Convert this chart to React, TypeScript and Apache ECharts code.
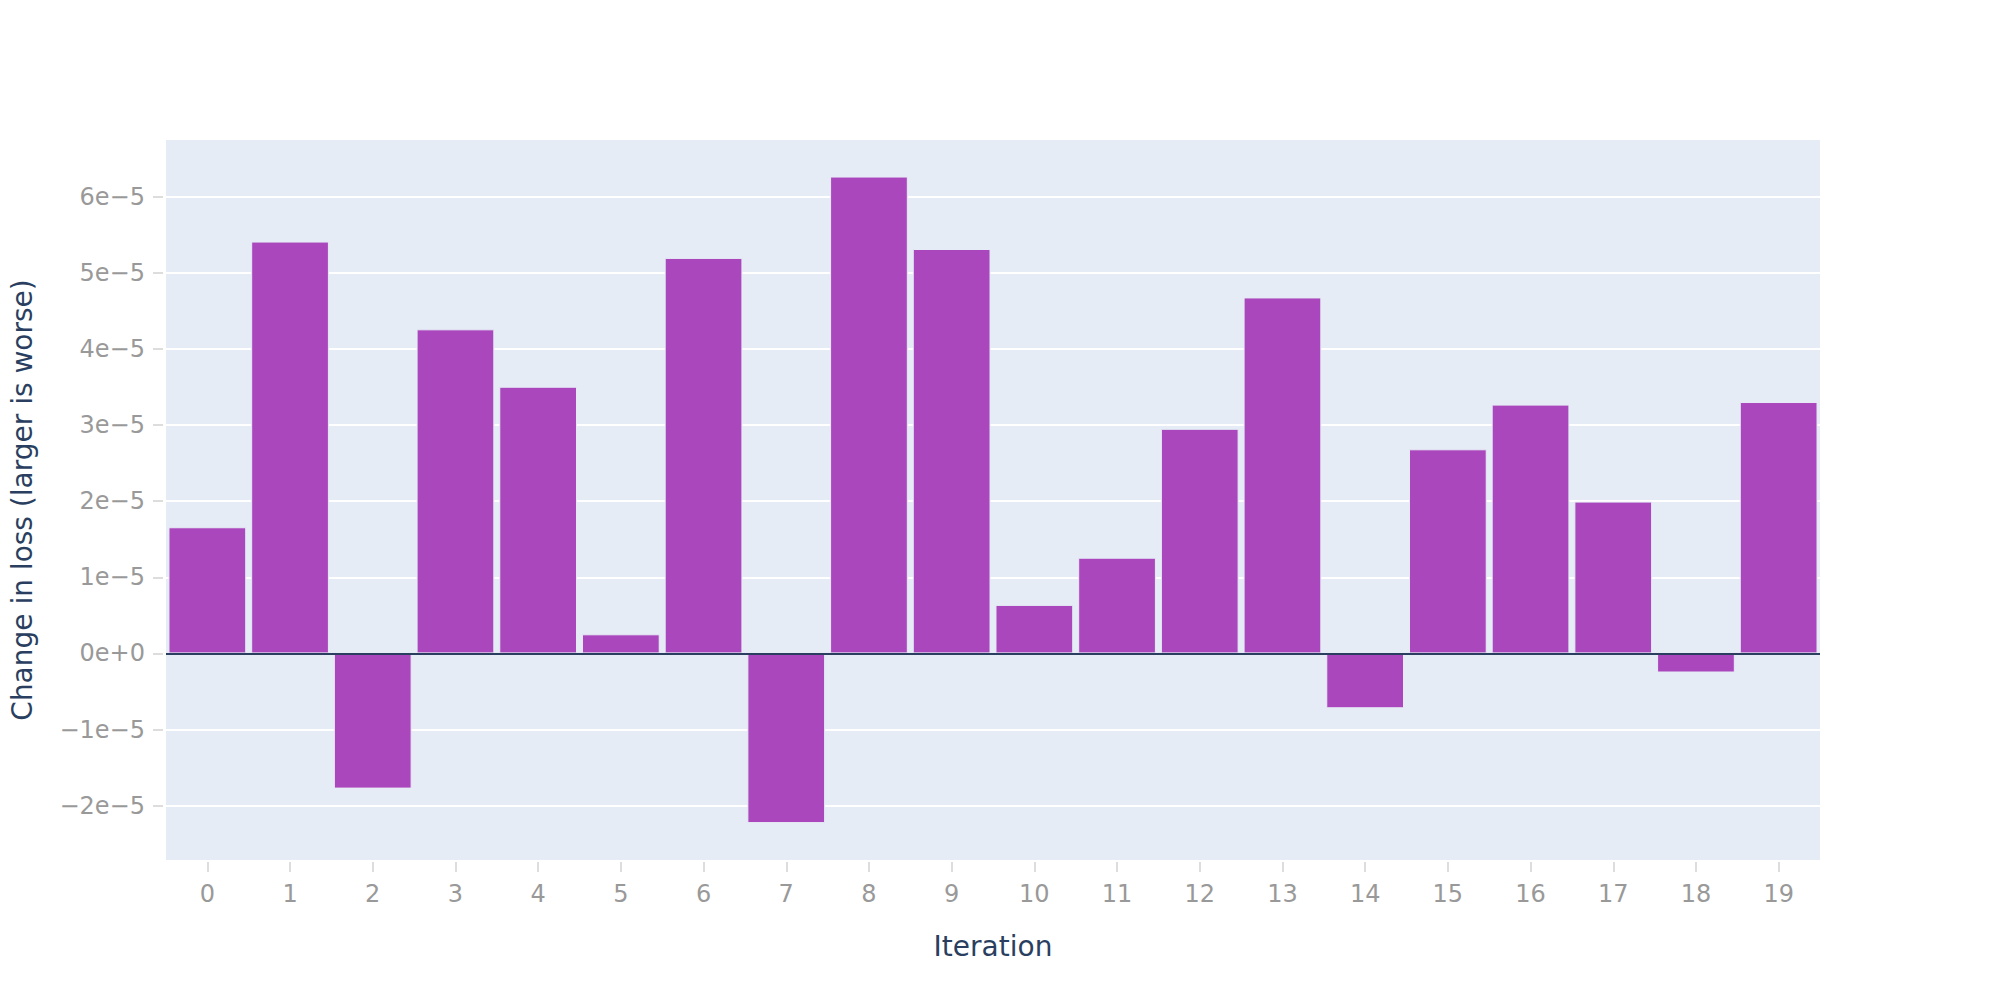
import React, { useEffect, useRef } from "react";
import * as echarts from "echarts";

const iterations = ["0", "1", "2", "3", "4", "5", "6", "7", "8", "9", "10", "11", "12", "13", "14", "15", "16", "17", "18", "19"];
const lossChange = [
  1.657e-5, 5.41e-5, -1.776e-5, 4.257e-5, 3.503e-5, 0.251e-5, 5.195e-5, -2.229e-5, 6.264e-5, 5.312e-5,
  0.637e-5, 1.257e-5, 2.95e-5, 4.676e-5, -0.721e-5, 2.681e-5, 3.268e-5, 1.994e-5, -0.251e-5, 3.302e-5,
];
const yTickValues = [-2e-5, -1e-5, 0, 1e-5, 2e-5, 3e-5, 4e-5, 5e-5, 6e-5];
const yMin = -2.714e-5;
const yMax = 6.744e-5;

const FONT = "DejaVu Sans";

function fmtY(v: number): string {
  const m = Math.round(v / 1e-5);
  if (m === 0) return "0e+0";
  return `${m < 0 ? "\u2212" : ""}${Math.abs(m)}e\u22125`;
}

export default function App() {
  const ref = useRef<HTMLDivElement>(null);
  useEffect(() => {
    if (!ref.current) return;
    const chart = echarts.init(ref.current, undefined, { renderer: "svg" });
    chart.setOption({
      animation: false,
      backgroundColor: "#ffffff",
      grid: {
        left: 160,
        top: 140,
        width: 1660,
        height: 720,
        show: true,
        backgroundColor: "#E5ECF6",
        borderWidth: 0,
        containLabel: false,
      },
      xAxis: {
        type: "category",
        data: iterations,
        offset: 2,
        axisLine: { show: false, onZero: false },
        axisTick: { show: true, alignWithLabel: true, length: 10, lineStyle: { color: "#dddddd", width: 2 } },
        axisLabel: { color: "#999999", fontSize: 24, fontFamily: FONT, margin: 20, interval: 0 },
        splitLine: { show: false },
        name: "Iteration",
        nameLocation: "middle",
        nameGap: 70,
        nameTextStyle: { color: "#2a3f5f", fontSize: 28, fontFamily: FONT },
      },
      yAxis: {
        type: "value",
        min: yMin,
        max: yMax,
        offset: 3,
        axisLine: { show: false },
        axisTick: { show: true, length: 10, lineStyle: { color: "#dddddd", width: 2 }, customValues: yTickValues },
        axisLabel: {
          color: "#999999",
          fontSize: 24,
          fontFamily: FONT,
          margin: 18,
          customValues: yTickValues,
          formatter: (v: number) => fmtY(v),
        },
        splitLine: { show: true, lineStyle: { color: "#ffffff", width: 2 } },
        name: "Change in loss (larger is worse)",
        nameLocation: "middle",
        nameGap: 127,
        nameTextStyle: { color: "#2a3f5f", fontSize: 28, fontFamily: FONT },
      },
      series: [
        {
          type: "bar",
          data: lossChange,
          barCategoryGap: "6%",
          itemStyle: { color: "#AB47BC", borderColor: "#E5ECF6", borderWidth: 1 },
          markLine: {
            silent: true,
            symbol: "none",
            label: { show: false },
            lineStyle: { color: "#2a3f5f", width: 2, type: "solid" },
            data: [{ yAxis: 0 }],
          },
        },
      ],
    });
    return () => chart.dispose();
  }, []);
  return <div ref={ref} style={{ position: "fixed", left: 0, top: 0, width: 2000, height: 1000 }} />;
}
